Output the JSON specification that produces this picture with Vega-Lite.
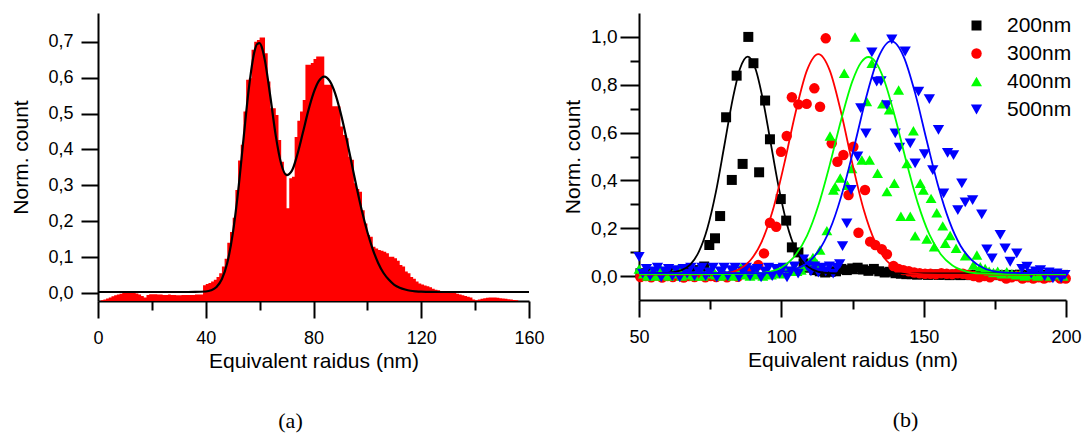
{
"$schema": "https://vega.github.io/schema/vega-lite/v6.json",
"padding": {"left": 10, "top": 13, "right": 5, "bottom": 5},
"bounds": "flush",
"spacing": 110,
"config": {
 "view": {"stroke": null},
 "font": "Liberation Sans",
 "axis": {"labelFont": "Liberation Sans", "titleFont": "Liberation Sans", "labelColor": "#000", "titleColor": "#000", "domainColor": "#000", "tickColor": "#000", "domainWidth": 2, "tickWidth": 2, "grid": false, "titleFontWeight": "normal", "labelFlush": false, "labelOverlap": false, "labelFontSize": 18, "titleFontSize": 21},
 "legend": {"labelFont": "Liberation Sans", "labelFontSize": 21, "labelColor": "#000", "padding": 0, "rowPadding": 6, "labelOffset": 20, "title": null},
 "title": {"font": "Liberation Serif", "fontSize": 22, "fontWeight": "normal", "color": "#000"}
},
"datasets": {
 "hist": [
  {"r":0,"c":-0.022},{"r":1,"c":-0.02},{"r":2,"c":-0.018},{"r":3,"c":-0.015},{"r":4,"c":-0.012},{"r":5,"c":-0.009},{"r":6,"c":-0.006},{"r":7,"c":-0.004},{"r":8,"c":-0.002},{"r":9,"c":0},{"r":10,"c":0.003},{"r":11,"c":0.005},{"r":12,"c":0.005},{"r":13,"c":0.002},{"r":14,"c":-0.001},{"r":15,"c":-0.004},{"r":16,"c":-0.008},{"r":17,"c":-0.012},{"r":18,"c":-0.005},{"r":19,"c":-0.003},{"r":20,"c":-0.003},{"r":21,"c":-0.003},{"r":22,"c":-0.004},{"r":23,"c":-0.004},{"r":24,"c":-0.005},{"r":25,"c":-0.005},{"r":26,"c":-0.004},{"r":27,"c":-0.005},{"r":28,"c":-0.005},{"r":29,"c":-0.006},{"r":30,"c":-0.006},{"r":31,"c":-0.005},{"r":32,"c":-0.005},{"r":33,"c":-0.005},{"r":34,"c":-0.005},{"r":35,"c":-0.005},{"r":36,"c":-0.004},{"r":37,"c":-0.004},{"r":38,"c":-0.004},{"r":39,"c":0.022},{"r":40,"c":0.025},{"r":41,"c":0.028},{"r":42,"c":0.032},{"r":43,"c":0.037},{"r":44,"c":0.045},{"r":45,"c":0.055},{"r":46,"c":0.074},{"r":47,"c":0.096},{"r":48,"c":0.14},{"r":49,"c":0.17},{"r":50,"c":0.21},{"r":51,"c":0.287},{"r":52,"c":0.369},{"r":53,"c":0.413},{"r":54,"c":0.506},{"r":55,"c":0.594},{"r":56,"c":0.598},{"r":57,"c":0.678},{"r":58,"c":0.7},{"r":59,"c":0.705},{"r":60,"c":0.712},{"r":61,"c":0.712},{"r":62,"c":0.668},{"r":63,"c":0.589},{"r":64,"c":0.515},{"r":65,"c":0.515},{"r":66,"c":0.496},{"r":67,"c":0.426},{"r":68,"c":0.366},{"r":69,"c":0.334},{"r":70,"c":0.236},{"r":71,"c":0.32},{"r":72,"c":0.324},{"r":73,"c":0.435},{"r":74,"c":0.48},{"r":75,"c":0.506},{"r":76,"c":0.538},{"r":77,"c":0.636},{"r":78,"c":0.636},{"r":79,"c":0.641},{"r":80,"c":0.652},{"r":81,"c":0.659},{"r":82,"c":0.659},{"r":83,"c":0.659},{"r":84,"c":0.58},{"r":85,"c":0.58},{"r":86,"c":0.58},{"r":87,"c":0.52},{"r":88,"c":0.52},{"r":89,"c":0.52},{"r":90,"c":0.464},{"r":91,"c":0.44},{"r":92,"c":0.431},{"r":93,"c":0.38},{"r":94,"c":0.371},{"r":95,"c":0.306},{"r":96,"c":0.29},{"r":97,"c":0.282},{"r":98,"c":0.231},{"r":99,"c":0.194},{"r":100,"c":0.162},{"r":101,"c":0.157},{"r":102,"c":0.129},{"r":103,"c":0.124},{"r":104,"c":0.12},{"r":105,"c":0.118},{"r":106,"c":0.115},{"r":107,"c":0.111},{"r":108,"c":0.101},{"r":109,"c":0.101},{"r":110,"c":0.097},{"r":111,"c":0.09},{"r":112,"c":0.078},{"r":113,"c":0.074},{"r":114,"c":0.06},{"r":115,"c":0.055},{"r":116,"c":0.045},{"r":117,"c":0.04},{"r":118,"c":0.032},{"r":119,"c":0.027},{"r":120,"c":0.024},{"r":121,"c":0.021},{"r":122,"c":0.019},{"r":123,"c":0.016},{"r":124,"c":0.012},{"r":125,"c":0.009},{"r":126,"c":0.008},{"r":127,"c":0.006},{"r":128,"c":0.005},{"r":129,"c":0.004},{"r":130,"c":0.003},{"r":131,"c":0.002},{"r":132,"c":0},{"r":133,"c":-0.002},{"r":134,"c":-0.004},{"r":135,"c":-0.006},{"r":136,"c":-0.008},{"r":137,"c":-0.01},{"r":138,"c":-0.012},{"r":139,"c":-0.018},{"r":140,"c":-0.02},{"r":141,"c":-0.018},{"r":142,"c":-0.016},{"r":143,"c":-0.014},{"r":144,"c":-0.013},{"r":145,"c":-0.012},{"r":146,"c":-0.012},{"r":147,"c":-0.012},{"r":148,"c":-0.013},{"r":149,"c":-0.014},{"r":150,"c":-0.015},{"r":151,"c":-0.016},{"r":152,"c":-0.017},{"r":153,"c":-0.018},{"r":154,"c":-0.019},{"r":155,"c":-0.02},{"r":156,"c":-0.022}
 ],
 "fitA": [
  {"r":0,"f":0.003},{"r":10,"f":0.003},{"r":20,"f":0.003},{"r":30,"f":0.003},{"r":36,"f":0.0032},{"r":40,"f":0.0044},{"r":42,"f":0.0078},{"r":44,"f":0.0171},{"r":46,"f":0.0391},{"r":48,"f":0.0844},{"r":50,"f":0.164},{"r":52,"f":0.282},{"r":54,"f":0.428},{"r":56,"f":0.57},{"r":58,"f":0.67},{"r":59,"f":0.693},{"r":60,"f":0.696},{"r":61,"f":0.68},{"r":62,"f":0.646},{"r":64,"f":0.546},{"r":66,"f":0.438},{"r":68,"f":0.36},{"r":70,"f":0.3285},{"r":72,"f":0.341},{"r":74,"f":0.386},{"r":76,"f":0.445},{"r":78,"f":0.506},{"r":80,"f":0.557},{"r":82,"f":0.591},{"r":84,"f":0.603},{"r":86,"f":0.591},{"r":88,"f":0.557},{"r":90,"f":0.504},{"r":92,"f":0.439},{"r":94,"f":0.367},{"r":96,"f":0.295},{"r":98,"f":0.228},{"r":100,"f":0.17},{"r":102,"f":0.122},{"r":104,"f":0.084},{"r":106,"f":0.056},{"r":108,"f":0.037},{"r":110,"f":0.023},{"r":112,"f":0.015},{"r":114,"f":0.01},{"r":116,"f":0.0066},{"r":118,"f":0.0049},{"r":120,"f":0.0039},{"r":124,"f":0.0032},{"r":130,"f":0.003},{"r":140,"f":0.003},{"r":150,"f":0.003},{"r":160,"f":0.003}
 ],
 "fit200": [
  {"x":50,"y":0.011},{"x":55,"y":0.011},{"x":60,"y":0.013},{"x":65,"y":0.025},{"x":68,"y":0.048},{"x":71,"y":0.101},{"x":74,"y":0.199},{"x":77,"y":0.351},{"x":80,"y":0.547},{"x":83,"y":0.745},{"x":85.5,"y":0.868},{"x":88.2,"y":0.918},{"x":91,"y":0.864},{"x":93.5,"y":0.739},{"x":96,"y":0.575},{"x":99,"y":0.376},{"x":102,"y":0.216},{"x":105,"y":0.111},{"x":108,"y":0.053},{"x":111,"y":0.027},{"x":115,"y":0.014},{"x":120,"y":0.011},{"x":200,"y":0.011}
 ],
 "fit300": [
  {"x":50,"y":0.006},{"x":70,"y":0.006},{"x":80,"y":0.011},{"x":85,"y":0.027},{"x":89,"y":0.064},{"x":93,"y":0.141},{"x":97,"y":0.275},{"x":101,"y":0.468},{"x":105,"y":0.684},{"x":109,"y":0.86},{"x":113,"y":0.928},{"x":117,"y":0.86},{"x":121,"y":0.684},{"x":125,"y":0.468},{"x":129,"y":0.275},{"x":133,"y":0.141},{"x":137,"y":0.064},{"x":141,"y":0.027},{"x":146,"y":0.011},{"x":150,"y":0.0073},{"x":160,"y":0.006},{"x":200,"y":0.006}
 ],
 "fit400": [
  {"x":50,"y":0.008},{"x":80,"y":0.008},{"x":90,"y":0.01},{"x":95,"y":0.016},{"x":100,"y":0.036},{"x":105,"y":0.088},{"x":109,"y":0.168},{"x":113,"y":0.295},{"x":117,"y":0.465},{"x":121,"y":0.653},{"x":125,"y":0.816},{"x":128,"y":0.893},{"x":130.6,"y":0.916},{"x":133,"y":0.897},{"x":136,"y":0.823},{"x":140,"y":0.662},{"x":144,"y":0.474},{"x":148,"y":0.303},{"x":152,"y":0.174},{"x":156,"y":0.091},{"x":160,"y":0.045},{"x":165,"y":0.019},{"x":170,"y":0.011},{"x":180,"y":0.008},{"x":200,"y":0.008}
 ],
 "fit500": [
  {"x":50,"y":0.012},{"x":90,"y":0.012},{"x":100,"y":0.017},{"x":105,"y":0.029},{"x":110,"y":0.063},{"x":114,"y":0.122},{"x":118,"y":0.223},{"x":122,"y":0.373},{"x":126,"y":0.561},{"x":130,"y":0.756},{"x":134,"y":0.911},{"x":138.6,"y":0.982},{"x":143,"y":0.917},{"x":147,"y":0.765},{"x":151,"y":0.57},{"x":155,"y":0.381},{"x":159,"y":0.23},{"x":163,"y":0.126},{"x":167,"y":0.066},{"x":171,"y":0.034},{"x":176,"y":0.018},{"x":182,"y":0.013},{"x":200,"y":0.012}
 ],
 "pts": [
  {"s":"200nm","x":50.5,"y":0.012},{"s":"200nm","x":52.4,"y":0.01},{"s":"200nm","x":54.3,"y":0.015},{"s":"200nm","x":56.2,"y":0.008},{"s":"200nm","x":58.1,"y":0.012},{"s":"200nm","x":60,"y":0.01},{"s":"200nm","x":61.9,"y":0.015},{"s":"200nm","x":63.8,"y":0.01},{"s":"200nm","x":65.7,"y":0.012},{"s":"200nm","x":67.6,"y":0.015},{"s":"200nm","x":69.5,"y":0.02},{"s":"200nm","x":71.4,"y":0.025},{"s":"200nm","x":72.9,"y":0.04},
  {"s":"200nm","x":74.7,"y":0.13},{"s":"200nm","x":76.7,"y":0.158},{"s":"200nm","x":78.5,"y":0.251},{"s":"200nm","x":80.6,"y":0.664},{"s":"200nm","x":82.6,"y":0.402},{"s":"200nm","x":84.3,"y":0.838},{"s":"200nm","x":86.4,"y":0.469},{"s":"200nm","x":88.4,"y":1.0},{"s":"200nm","x":90.2,"y":0.89},{"s":"200nm","x":92.2,"y":0.434},{"s":"200nm","x":94.3,"y":0.734},{"s":"200nm","x":96.0,"y":0.572},{"s":"200nm","x":99.8,"y":0.322},{"s":"200nm","x":101.7,"y":0.232},{"s":"200nm","x":103.7,"y":0.12},{"s":"200nm","x":106.0,"y":0.099},{"s":"200nm","x":107.8,"y":0.053},
  {"s":"200nm","x":109.7,"y":0.035},{"s":"200nm","x":111.6,"y":0.025},{"s":"200nm","x":113.5,"y":0.02},{"s":"200nm","x":115.4,"y":0.015},{"s":"200nm","x":117.3,"y":0.018},{"s":"200nm","x":119.2,"y":0.02},{"s":"200nm","x":121.1,"y":0.03},{"s":"200nm","x":123.0,"y":0.025},{"s":"200nm","x":124.9,"y":0.032},{"s":"200nm","x":126.8,"y":0.035},{"s":"200nm","x":128.7,"y":0.028},{"s":"200nm","x":130.6,"y":0.022},{"s":"200nm","x":132.5,"y":0.03},{"s":"200nm","x":134.4,"y":0.02},{"s":"200nm","x":136.3,"y":0.015},{"s":"200nm","x":138.2,"y":0.018},{"s":"200nm","x":140.1,"y":0.012},{"s":"200nm","x":142.0,"y":0.01},{"s":"200nm","x":143.9,"y":0.008},{"s":"200nm","x":145.8,"y":0.008},{"s":"200nm","x":147.7,"y":0.006},{"s":"200nm","x":149.6,"y":0.008},{"s":"200nm","x":151.5,"y":0.005},{"s":"200nm","x":153.4,"y":0.007},{"s":"200nm","x":155.3,"y":0.005},{"s":"200nm","x":157.2,"y":0.006},{"s":"200nm","x":159.1,"y":0.004},{"s":"200nm","x":161.0,"y":0.006},{"s":"200nm","x":162.9,"y":0.004},{"s":"200nm","x":164.8,"y":0.005},{"s":"200nm","x":166.7,"y":0.004},{"s":"200nm","x":168.6,"y":0.006},{"s":"200nm","x":170.5,"y":0.004},{"s":"200nm","x":172.4,"y":0.005},{"s":"200nm","x":174.3,"y":0.004},{"s":"200nm","x":176.2,"y":0.005},{"s":"200nm","x":178.1,"y":0.004},{"s":"200nm","x":180.0,"y":0.005},{"s":"200nm","x":181.9,"y":0.004},{"s":"200nm","x":183.8,"y":0.006},{"s":"200nm","x":185.7,"y":0.004},{"s":"200nm","x":187.6,"y":0.005},{"s":"200nm","x":189.5,"y":0.004},{"s":"200nm","x":191.4,"y":0.005},{"s":"200nm","x":193.3,"y":0.004},{"s":"200nm","x":195.2,"y":0.005},{"s":"200nm","x":197.1,"y":0.004},{"s":"200nm","x":199.0,"y":0.005},
  {"s":"300nm","x":50.5,"y":-0.004},{"s":"300nm","x":52.4,"y":0.0},{"s":"300nm","x":54.3,"y":-0.005},{"s":"300nm","x":56.2,"y":0.002},{"s":"300nm","x":58.1,"y":-0.006},{"s":"300nm","x":60.0,"y":0.0},{"s":"300nm","x":61.9,"y":-0.004},{"s":"300nm","x":63.8,"y":0.002},{"s":"300nm","x":65.7,"y":-0.006},{"s":"300nm","x":67.6,"y":0.0},{"s":"300nm","x":69.5,"y":-0.004},{"s":"300nm","x":71.4,"y":0.003},{"s":"300nm","x":73.3,"y":-0.005},{"s":"300nm","x":75.2,"y":0.0},{"s":"300nm","x":77.1,"y":-0.004},{"s":"300nm","x":79.0,"y":0.002},{"s":"300nm","x":80.9,"y":-0.005},{"s":"300nm","x":82.8,"y":0.004},{"s":"300nm","x":84.7,"y":-0.003},{"s":"300nm","x":86.6,"y":0.01},{"s":"300nm","x":88.5,"y":0.02},{"s":"300nm","x":90.0,"y":0.015},
  {"s":"300nm","x":91.9,"y":0.046},{"s":"300nm","x":93.9,"y":0.095},{"s":"300nm","x":96.0,"y":0.223},{"s":"300nm","x":98.2,"y":0.206},{"s":"300nm","x":99.9,"y":0.52},{"s":"300nm","x":101.9,"y":0.586},{"s":"300nm","x":103.7,"y":0.748},{"s":"300nm","x":106.0,"y":0.718},{"s":"300nm","x":108.9,"y":0.72},{"s":"300nm","x":111.6,"y":0.785},{"s":"300nm","x":113.6,"y":0.708},{"s":"300nm","x":115.6,"y":0.994},{"s":"300nm","x":117.7,"y":0.555},{"s":"300nm","x":119.7,"y":0.478},{"s":"300nm","x":121.8,"y":0.506},{"s":"300nm","x":123.6,"y":0.339},{"s":"300nm","x":125.3,"y":0.541},{"s":"300nm","x":127.1,"y":0.181},{"s":"300nm","x":129.4,"y":0.36},{"s":"300nm","x":131.2,"y":0.144},{"s":"300nm","x":133.0,"y":0.13},{"s":"300nm","x":135.3,"y":0.112},{"s":"300nm","x":137.1,"y":0.091},{"s":"300nm","x":139.4,"y":0.042},{"s":"300nm","x":141.2,"y":0.03},{"s":"300nm","x":142.9,"y":0.025},
  {"s":"300nm","x":144.8,"y":0.02},{"s":"300nm","x":146.7,"y":0.015},{"s":"300nm","x":148.6,"y":0.012},{"s":"300nm","x":150.5,"y":0.01},{"s":"300nm","x":152.4,"y":0.01},{"s":"300nm","x":154.3,"y":0.008},{"s":"300nm","x":156.2,"y":0.012},{"s":"300nm","x":158.1,"y":0.01},{"s":"300nm","x":160.0,"y":0.008},{"s":"300nm","x":161.9,"y":0.012},{"s":"300nm","x":163.8,"y":0.01},{"s":"300nm","x":165.7,"y":0.005},{"s":"300nm","x":167.6,"y":0.0},{"s":"300nm","x":169.5,"y":-0.005},{"s":"300nm","x":171.4,"y":0.0},{"s":"300nm","x":173.3,"y":-0.005},{"s":"300nm","x":175.2,"y":0.005},{"s":"300nm","x":177.1,"y":0.0},{"s":"300nm","x":179.0,"y":-0.01},{"s":"300nm","x":180.9,"y":-0.005},{"s":"300nm","x":182.8,"y":0.0},{"s":"300nm","x":184.7,"y":-0.01},{"s":"300nm","x":186.6,"y":-0.005},{"s":"300nm","x":188.5,"y":-0.01},{"s":"300nm","x":190.4,"y":-0.005},{"s":"300nm","x":192.3,"y":-0.01},{"s":"300nm","x":194.2,"y":-0.005},{"s":"300nm","x":196.1,"y":0.0},{"s":"300nm","x":198.0,"y":-0.01},{"s":"300nm","x":199.9,"y":-0.01},
  {"s":"400nm","x":50.0,"y":0.03},{"s":"400nm","x":51.5,"y":0.01},{"s":"400nm","x":53.0,"y":0.0},{"s":"400nm","x":54.5,"y":0.02},{"s":"400nm","x":56.0,"y":0.0},{"s":"400nm","x":57.5,"y":0.032},{"s":"400nm","x":59.0,"y":0.005},{"s":"400nm","x":60.5,"y":0.0},{"s":"400nm","x":62.0,"y":0.01},{"s":"400nm","x":63.8,"y":0.032},{"s":"400nm","x":65.0,"y":0.0},{"s":"400nm","x":66.5,"y":0.01},{"s":"400nm","x":68.0,"y":0.005},{"s":"400nm","x":69.5,"y":0.0},{"s":"400nm","x":71.2,"y":0.032},{"s":"400nm","x":72.5,"y":0.0},{"s":"400nm","x":74.0,"y":0.01},{"s":"400nm","x":75.5,"y":0.035},{"s":"400nm","x":77.0,"y":0.005},{"s":"400nm","x":78.5,"y":0.0},{"s":"400nm","x":80.0,"y":0.01},{"s":"400nm","x":81.5,"y":0.005},{"s":"400nm","x":83.0,"y":0.0},{"s":"400nm","x":84.5,"y":0.01},{"s":"400nm","x":85.8,"y":0.035},{"s":"400nm","x":87.5,"y":0.005},{"s":"400nm","x":89.0,"y":0.0},{"s":"400nm","x":90.5,"y":0.01},{"s":"400nm","x":92.0,"y":0.005},{"s":"400nm","x":93.5,"y":0.0},{"s":"400nm","x":95.0,"y":0.01},{"s":"400nm","x":96.5,"y":0.005},{"s":"400nm","x":98.0,"y":0.015},{"s":"400nm","x":99.5,"y":0.01},{"s":"400nm","x":101.3,"y":0.038},{"s":"400nm","x":102.5,"y":0.02},{"s":"400nm","x":104.0,"y":0.03},{"s":"400nm","x":105.5,"y":0.02},{"s":"400nm","x":107.0,"y":0.025},{"s":"400nm","x":108.5,"y":0.04},{"s":"400nm","x":110.0,"y":0.06},
  {"s":"400nm","x":111.1,"y":0.078},{"s":"400nm","x":112.5,"y":0.053},{"s":"400nm","x":113.6,"y":0.109},{"s":"400nm","x":116.0,"y":0.19},{"s":"400nm","x":117.1,"y":0.586},{"s":"400nm","x":118.3,"y":0.36},{"s":"400nm","x":118.9,"y":0.374},{"s":"400nm","x":120.7,"y":0.41},{"s":"400nm","x":122.1,"y":0.848},{"s":"400nm","x":123.2,"y":0.38},{"s":"400nm","x":124.8,"y":0.45},{"s":"400nm","x":125.9,"y":1.0},{"s":"400nm","x":128.3,"y":0.485},{"s":"400nm","x":130.0,"y":0.73},{"s":"400nm","x":131.0,"y":0.485},{"s":"400nm","x":131.8,"y":0.89},{"s":"400nm","x":133.8,"y":0.43},{"s":"400nm","x":135.5,"y":0.72},{"s":"400nm","x":137.1,"y":0.353},{"s":"400nm","x":137.9,"y":0.695},{"s":"400nm","x":139.7,"y":0.388},{"s":"400nm","x":141.2,"y":0.778},{"s":"400nm","x":142.0,"y":0.25},{"s":"400nm","x":144.1,"y":0.471},{"s":"400nm","x":145.3,"y":0.25},{"s":"400nm","x":146.4,"y":0.608},{"s":"400nm","x":147.0,"y":0.168},{"s":"400nm","x":148.8,"y":0.388},{"s":"400nm","x":149.9,"y":0.36},{"s":"400nm","x":151.1,"y":0.155},{"s":"400nm","x":152.6,"y":0.325},{"s":"400nm","x":153.7,"y":0.123},{"s":"400nm","x":154.6,"y":0.265},{"s":"400nm","x":156.7,"y":0.21},{"s":"400nm","x":157.6,"y":0.137},{"s":"400nm","x":159.3,"y":0.17},{"s":"400nm","x":161.4,"y":0.116},{"s":"400nm","x":164.6,"y":0.085},{"s":"400nm","x":167.5,"y":0.046},{"s":"400nm","x":168.7,"y":0.088},{"s":"400nm","x":169.9,"y":0.039},{"s":"400nm","x":171.6,"y":0.032},
  {"s":"400nm","x":173.0,"y":0.02},{"s":"400nm","x":174.5,"y":0.015},{"s":"400nm","x":176.0,"y":0.02},{"s":"400nm","x":177.5,"y":0.01},{"s":"400nm","x":179.2,"y":0.018},{"s":"400nm","x":181.0,"y":0.01},{"s":"400nm","x":182.5,"y":0.005},{"s":"400nm","x":184.0,"y":0.01},{"s":"400nm","x":185.5,"y":0.0},{"s":"400nm","x":187.0,"y":0.01},{"s":"400nm","x":188.5,"y":0.005},{"s":"400nm","x":190.0,"y":0.0},{"s":"400nm","x":191.5,"y":0.01},{"s":"400nm","x":193.0,"y":0.005},{"s":"400nm","x":194.5,"y":0.0},{"s":"400nm","x":196.0,"y":0.01},{"s":"400nm","x":197.5,"y":0.005},{"s":"400nm","x":199.0,"y":0.0},
  {"s":"500nm","x":50.0,"y":0.08},{"s":"500nm","x":51.3,"y":0.01},{"s":"500nm","x":52.6,"y":0.03},{"s":"500nm","x":53.9,"y":0.0},{"s":"500nm","x":55.2,"y":0.02},{"s":"500nm","x":56.5,"y":0.035},{"s":"500nm","x":57.8,"y":-0.005},{"s":"500nm","x":59.1,"y":0.02},{"s":"500nm","x":60.4,"y":0.03},{"s":"500nm","x":61.7,"y":0.0},{"s":"500nm","x":63.0,"y":0.025},{"s":"500nm","x":64.3,"y":-0.005},{"s":"500nm","x":65.6,"y":0.03},{"s":"500nm","x":66.9,"y":0.01},{"s":"500nm","x":68.2,"y":0.035},{"s":"500nm","x":69.5,"y":0.0},{"s":"500nm","x":70.8,"y":0.02},{"s":"500nm","x":72.1,"y":0.035},{"s":"500nm","x":73.4,"y":0.0},{"s":"500nm","x":74.7,"y":0.015},{"s":"500nm","x":76.0,"y":0.035},{"s":"500nm","x":77.3,"y":-0.005},{"s":"500nm","x":78.6,"y":0.02},{"s":"500nm","x":79.9,"y":0.035},{"s":"500nm","x":81.2,"y":0.0},{"s":"500nm","x":82.5,"y":0.025},{"s":"500nm","x":83.8,"y":0.035},{"s":"500nm","x":85.1,"y":-0.005},{"s":"500nm","x":86.4,"y":0.02},{"s":"500nm","x":87.7,"y":0.035},{"s":"500nm","x":89.0,"y":0.0},{"s":"500nm","x":90.3,"y":0.025},{"s":"500nm","x":91.6,"y":0.03},{"s":"500nm","x":92.9,"y":-0.005},{"s":"500nm","x":94.2,"y":0.02},{"s":"500nm","x":95.5,"y":0.035},{"s":"500nm","x":96.8,"y":0.0},{"s":"500nm","x":98.1,"y":0.03},{"s":"500nm","x":99.4,"y":0.01},{"s":"500nm","x":100.7,"y":0.035},{"s":"500nm","x":102.0,"y":-0.005},{"s":"500nm","x":103.3,"y":0.02},{"s":"500nm","x":104.6,"y":0.04},{"s":"500nm","x":105.9,"y":0.01},{"s":"500nm","x":107.8,"y":0.07},{"s":"500nm","x":109.1,"y":0.04},{"s":"500nm","x":110.4,"y":0.02},{"s":"500nm","x":111.7,"y":0.04},{"s":"500nm","x":113.0,"y":0.015},{"s":"500nm","x":114.3,"y":0.035},{"s":"500nm","x":115.6,"y":0.02},{"s":"500nm","x":116.9,"y":0.04},{"s":"500nm","x":118.2,"y":0.01},{"s":"500nm","x":119.5,"y":0.035},{"s":"500nm","x":120.5,"y":0.05},
  {"s":"500nm","x":121.5,"y":0.125},{"s":"500nm","x":123.0,"y":0.22},{"s":"500nm","x":124.5,"y":0.36},{"s":"500nm","x":126.8,"y":0.5},{"s":"500nm","x":127.9,"y":0.702},{"s":"500nm","x":129.7,"y":0.597},{"s":"500nm","x":131.8,"y":0.935},{"s":"500nm","x":133.5,"y":0.813},{"s":"500nm","x":135.0,"y":0.815},{"s":"500nm","x":137.1,"y":0.715},{"s":"500nm","x":138.8,"y":0.99},{"s":"500nm","x":140.0,"y":0.597},{"s":"500nm","x":141.5,"y":0.537},{"s":"500nm","x":143.5,"y":0.939},{"s":"500nm","x":145.3,"y":0.555},{"s":"500nm","x":147.0,"y":0.471},{"s":"500nm","x":148.2,"y":0.771},{"s":"500nm","x":150.3,"y":0.51},{"s":"500nm","x":152.0,"y":0.74},{"s":"500nm","x":153.2,"y":0.443},{"s":"500nm","x":155.2,"y":0.611},{"s":"500nm","x":157.0,"y":0.346},{"s":"500nm","x":158.4,"y":0.515},{"s":"500nm","x":160.5,"y":0.506},{"s":"500nm","x":162.0,"y":0.276},{"s":"500nm","x":163.4,"y":0.388},{"s":"500nm","x":164.6,"y":0.308},{"s":"500nm","x":167.2,"y":0.318},{"s":"500nm","x":170.4,"y":0.258},{"s":"500nm","x":172.2,"y":0.112},{"s":"500nm","x":174.0,"y":0.074},{"s":"500nm","x":176.9,"y":0.172},{"s":"500nm","x":178.6,"y":0.116},{"s":"500nm","x":180.4,"y":0.06},{"s":"500nm","x":182.7,"y":0.095},{"s":"500nm","x":184.5,"y":0.03},{"s":"500nm","x":186.3,"y":0.039},{"s":"500nm","x":187.8,"y":0.01},{"s":"500nm","x":189.3,"y":0.02},{"s":"500nm","x":191.0,"y":0.025},{"s":"500nm","x":192.5,"y":0.0},{"s":"500nm","x":194.0,"y":0.015},{"s":"500nm","x":195.4,"y":-0.01},{"s":"500nm","x":196.8,"y":0.011},{"s":"500nm","x":198.3,"y":-0.01},{"s":"500nm","x":199.6,"y":0.005}
 ]
},
"hconcat": [
 {
  "width": 431, "height": 288,
  "title": {"text": "(a)", "orient": "bottom", "dx": -23, "offset": 40},
  "layer": [
   {"data": {"name": "hist"},
    "mark": {"type": "area", "interpolate": "step-after", "color": "#ff0000"},
    "encoding": {
     "x": {"field": "r", "type": "quantitative", "scale": {"domain": [0, 160], "nice": false},
      "axis": {"values": [0,20,40,60,80,100,120,140,160], "title": "Equivalent raidus (nm)",
       "labelExpr": "datum.value % 40 === 0 ? datum.label : ''",
       "tickSize": {"condition": {"test": "datum.value % 40 === 0", "value": 17}, "value": 9},
       "labelPadding": 11, "titlePadding": 3}},
     "y": {"field": "c", "type": "quantitative", "scale": {"domain": [-0.022, 0.78], "nice": false, "zero": false},
      "axis": {"values": [0,0.05,0.1,0.15,0.2,0.25,0.3,0.35,0.4,0.45,0.5,0.55,0.6,0.65,0.7,0.75], "title": "Norm. count",
       "labelExpr": "abs(datum.value*10 - round(datum.value*10)) < 0.001 ? replace(format(datum.value, '.1f'), '.', ',') : ''",
       "tickSize": {"condition": {"test": "abs(datum.value*10 - round(datum.value*10)) < 0.001", "value": 17}, "value": 9},
       "labelPadding": 8, "titlePadding": 16}},
     "y2": {"datum": -0.022}
    }},
   {"data": {"name": "fitA"},
    "mark": {"type": "line", "color": "#000000", "strokeWidth": 2.2, "interpolate": "monotone"},
    "encoding": {"x": {"field": "r", "type": "quantitative"}, "y": {"field": "f", "type": "quantitative"}}}
  ]
 },
 {
  "width": 427, "height": 287,
  "title": {"text": "(b)", "orient": "bottom", "dx": 53, "offset": 40},
  "encoding": {
   "x": {"field": "x", "type": "quantitative", "scale": {"domain": [50, 200], "nice": false},
    "axis": {"values": [50,75,100,125,150,175,200], "title": "Equivalent raidus (nm)",
     "labelExpr": "datum.value % 50 === 0 ? datum.label : ''",
     "tickSize": {"condition": {"test": "datum.value % 50 === 0", "value": 17}, "value": 9},
     "labelPadding": 11, "titlePadding": 3}},
   "y": {"field": "y", "type": "quantitative", "scale": {"domain": [-0.1, 1.1], "nice": false, "zero": false},
    "axis": {"values": [0,0.1,0.2,0.3,0.4,0.5,0.6,0.7,0.8,0.9,1.0], "title": "Norm. count",
     "labelExpr": "abs(datum.value*5 - round(datum.value*5)) < 0.001 ? replace(format(datum.value, '.1f'), '.', ',') : ''",
     "tickSize": {"condition": {"test": "abs(datum.value*5 - round(datum.value*5)) < 0.001", "value": 19}, "value": 9},
     "labelPadding": 3, "titlePadding": 7, "labelFontSize": 19}}
  },
  "layer": [
   {"data": {"name": "pts"},
    "mark": {"type": "point", "filled": true, "opacity": 1, "strokeWidth": 0},
    "encoding": {
     "color": {"field": "s", "type": "nominal", "scale": {"domain": ["200nm","300nm","400nm","500nm"], "range": ["#000000","#ff0000","#00ff00","#0000ff"]},
      "legend": {"title": null, "orient": "none", "legendX": 868, "legendY": 2, "labelFontSize": 21, "labelOffset": 20, "rowPadding": 6, "labelColor": "#000", "padding": 0}},
     "shape": {"field": "s", "type": "nominal", "scale": {"domain": ["200nm","300nm","400nm","500nm"], "range": ["square","circle","triangle-up","triangle-down"]},
      "legend": {"title": null, "orient": "none", "legendX": 868, "legendY": 2, "labelFontSize": 21, "labelOffset": 20, "rowPadding": 6, "labelColor": "#000", "padding": 0}},
     "size": {"field": "s", "type": "nominal", "scale": {"domain": ["200nm","300nm","400nm","500nm"], "range": [100, 128, 185, 180]},
      "legend": {"title": null, "orient": "none", "legendX": 868, "legendY": 2, "labelFontSize": 21, "labelOffset": 20, "rowPadding": 6, "labelColor": "#000", "padding": 0}}
    }},
   {"data": {"name": "fit200"}, "mark": {"type": "line", "color": "#000000", "strokeWidth": 1.8, "interpolate": "monotone"}, "encoding": {}},
   {"data": {"name": "fit300"}, "mark": {"type": "line", "color": "#ff0000", "strokeWidth": 1.8, "interpolate": "monotone"}, "encoding": {}},
   {"data": {"name": "fit400"}, "mark": {"type": "line", "color": "#00ff00", "strokeWidth": 1.8, "interpolate": "monotone"}, "encoding": {}},
   {"data": {"name": "fit500"}, "mark": {"type": "line", "color": "#0000ff", "strokeWidth": 1.8, "interpolate": "monotone"}, "encoding": {}}
  ]
 }
]
}
